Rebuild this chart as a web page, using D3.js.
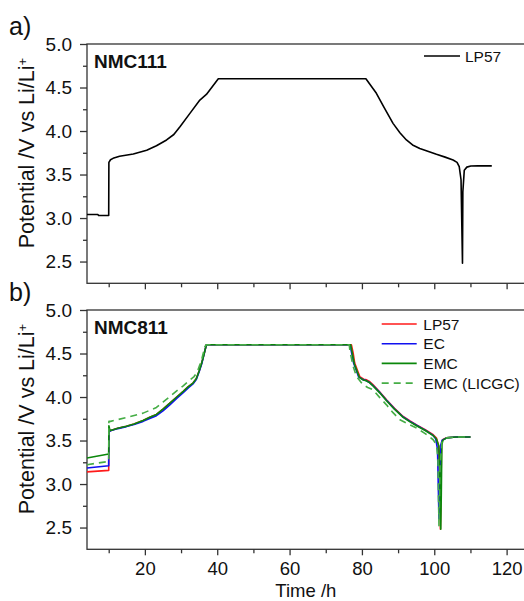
<!DOCTYPE html>
<html>
<head>
<meta charset="utf-8">
<script src="https://cdn.jsdelivr.net/npm/d3@7"></script>
<style>
    body { margin: 0; background: #fff; }
    svg { display: block; }
</style>
</head>
<body>
<script>
// a) NMC111 cell, LP57 electrolyte (time in h, potential in V)
const nmc111Time = [4, 7, 7.2, 10, 10.05, 10.5, 11.2, 13, 16.8, 20.5, 23.2, 26, 28, 29.7, 32.4, 35.2, 37, 40.3,
    81.1, 82.5, 84, 86, 88.6, 90.5, 92.3, 94, 96, 98, 100.6, 103, 105.2, 106.3, 106.9, 107.4, 107.8,
    107.9, 108.3, 109, 110.1, 112, 115.9];
const nmc111Potential = [3.04, 3.04, 3.03, 3.03, 3.64, 3.67, 3.686, 3.71, 3.736, 3.78, 3.83, 3.897, 3.96, 4.05, 4.2, 4.356, 4.42, 4.6,
    4.6, 4.52, 4.433, 4.28, 4.088, 3.98, 3.897, 3.84, 3.8, 3.77, 3.732, 3.7, 3.667, 3.64, 3.59, 3.44, 2.48,
    3.3, 3.55, 3.585, 3.598, 3.6, 3.6];

// b) NMC811 cells
const lp57Time = [4, 10, 10.05, 10.5, 12.5, 14.9, 17, 19.5, 21.5, 23.2, 25, 26.9, 28.8, 30.6, 32, 33.3, 34.2, 35, 35.7, 36.4, 37,
    77.1, 77.6, 78, 79.4, 80.5, 81.3, 82.2, 83.1, 85, 86.8, 89, 91.4, 93.3, 95.1, 97.5, 99.7, 100.6, 101.2, 101.55, 101.7,
    101.85, 102, 102.3, 103.4, 106, 110];
const lp57Potential = [3.14, 3.157, 3.6, 3.615, 3.64, 3.665, 3.69, 3.73, 3.77, 3.8, 3.86, 3.93, 4, 4.065, 4.12, 4.16, 4.21, 4.3, 4.39, 4.5, 4.6,
    4.6, 4.5, 4.39, 4.235, 4.205, 4.197, 4.175, 4.14, 4.055, 3.968, 3.87, 3.776, 3.725, 3.68, 3.625, 3.567, 3.528, 3.44, 3, 2.48,
    2.9, 3.45, 3.509, 3.532, 3.54, 3.54];

const ecTime = [4, 10, 10.05, 10.5, 12.5, 14.9, 17, 19.5, 21.5, 23.2, 25, 26.9, 28.8, 30.6, 32, 33.3, 34.2, 35, 35.7, 36.4, 37,
    76.7, 77.2, 77.7, 79.1, 80.3, 81.1, 82, 83, 85, 86.8, 89, 91.4, 93.3, 95.1, 97.5, 99.6, 100.4, 100.9, 101.15, 101.3,
    101.5, 101.8, 102.2, 103.4, 106, 110];
const ecPotential = [3.185, 3.21, 3.6, 3.612, 3.637, 3.66, 3.685, 3.72, 3.755, 3.785, 3.84, 3.91, 3.985, 4.05, 4.105, 4.15, 4.2, 4.29, 4.38, 4.5, 4.6,
    4.6, 4.5, 4.39, 4.23, 4.2, 4.19, 4.17, 4.135, 4.05, 3.962, 3.864, 3.77, 3.72, 3.675, 3.62, 3.562, 3.52, 3.4, 2.9, 2.6,
    3.0, 3.45, 3.505, 3.53, 3.54, 3.54];

const emcTime = [4, 10, 10.05, 10.3, 10.6, 12.5, 14.9, 17, 19.5, 21.5, 23.2, 25, 26.9, 28.8, 30.6, 32, 33.3, 34.2, 35, 35.7, 36.4, 37,
    76.9, 77.4, 77.9, 79.3, 80.4, 81.2, 82.1, 83, 85, 86.8, 89, 91.4, 93.3, 95.1, 97.5, 99.7, 100.6, 101.3, 101.65, 101.8,
    101.95, 102.1, 102.4, 103.4, 106, 110];
const emcPotential = [3.3, 3.345, 3.67, 3.625, 3.615, 3.64, 3.665, 3.69, 3.73, 3.77, 3.8, 3.86, 3.93, 4, 4.065, 4.12, 4.16, 4.21, 4.3, 4.39, 4.5, 4.6,
    4.6, 4.49, 4.38, 4.225, 4.195, 4.187, 4.165, 4.13, 4.045, 3.958, 3.86, 3.766, 3.715, 3.67, 3.615, 3.557, 3.518, 3.43, 3, 2.48,
    2.9, 3.45, 3.505, 3.53, 3.54, 3.54];

const licgcTime = [4, 10, 10.05, 10.5, 14.9, 19.5, 21.5, 23.2, 25, 26.9, 28.8, 30.6, 32, 33.6, 34.5, 35.7, 36.6, 37,
    76.5, 76.7, 77.6, 78.5, 80.3, 81.6, 83.1, 85, 86.8, 88.6, 90.5, 92.8, 95.1, 97.5, 99.7, 100.6, 101, 101.3,
    101.6, 102.1, 103.4, 106, 110];
const licgcPotential = [3.222, 3.26, 3.72, 3.72, 3.765, 3.815, 3.85, 3.88, 3.94, 4.006, 4.07, 4.128, 4.18, 4.235, 4.29, 4.43, 4.58, 4.6,
    4.6, 4.52, 4.35, 4.235, 4.14, 4.11, 4.083, 3.99, 3.91, 3.82, 3.739, 3.69, 3.643, 3.58, 3.509, 3.452, 3.3, 2.52,
    3.2, 3.48, 3.53, 3.54, 3.54];

const seriesNames = ["LP57", "EC", "EMC", "EMC (LICGC)"];
const seriesColors = ["#ff1a1a", "#1010f0", "#0b870b", "#45ad45"];
const seriesDashes = [null, null, null, "7,5"];

const xTicks = [20, 40, 60, 80, 100, 120];
const xMinorTicks = [10, 30, 50, 70, 90, 110];
const yTicks = [2.5, 3.0, 3.5, 4.0, 4.5, 5.0];
const yMinorTicks = [2.75, 3.25, 3.75, 4.25, 4.75];

const FONT = '"Liberation Sans", Arial, sans-serif';
const AXIS_COLOR = "#333";

let svg = d3.select("body")
    .append("svg")
    .attr("width", 524)
    .attr("height", 601)
    .style("background-color", "#fff");

let x = d3.scaleLinear().domain([4, 125]).range([87, 524.7]);

function zip(t, v) {
    return t.map((d, i) => [d, v[i]]);
}

// one framed panel with left and bottom axes, returns its y scale
function drawPanel(top, bottom, showXLabels, letter, title) {
    let y = d3.scaleLinear().domain([2.25, 5]).range([bottom, top]);
    let g = svg.append("g");

    g.append("rect")
        .attr("x", x.range()[0])
        .attr("y", top)
        .attr("width", x.range()[1] - x.range()[0])
        .attr("height", bottom - top)
        .attr("fill", "none")
        .attr("stroke", AXIS_COLOR)
        .attr("stroke-width", 1.3);

    // left axis: major + minor
    g.append("g")
        .attr("transform", "translate(" + x.range()[0] + ",0)")
        .call(d3.axisLeft(y).tickValues(yTicks).tickSize(7).tickPadding(8).tickFormat(d3.format(".1f")));
    g.append("g")
        .attr("transform", "translate(" + x.range()[0] + ",0)")
        .call(d3.axisLeft(y).tickValues(yMinorTicks).tickSize(4).tickFormat(""));

    // bottom axis: major + minor
    g.append("g")
        .attr("class", "x-major")
        .attr("transform", "translate(0," + bottom + ")")
        .call(d3.axisBottom(x).tickValues(xTicks).tickSize(6).tickPadding(7)
            .tickFormat(showXLabels ? d3.format("d") : ""));
    g.append("g")
        .attr("transform", "translate(0," + bottom + ")")
        .call(d3.axisBottom(x).tickValues(xMinorTicks).tickSize(4).tickFormat(""));

    g.selectAll(".domain").remove();
    g.selectAll(".tick line").attr("stroke", AXIS_COLOR).attr("stroke-width", 1.3);
    g.selectAll(".tick text")
        .attr("fill", "#111")
        .attr("font-size", "19px")
        .attr("font-family", FONT);
    g.selectAll(".x-major .tick text").attr("font-size", "18.5px");

    // y axis title with superscript
    let label = g.append("text")
        .attr("transform", "translate(33.5," + (bottom - 35) + ") rotate(-90)")
        .attr("font-size", "21.5px")
        .attr("font-family", FONT)
        .attr("fill", "#111")
        .text("Potential /V vs Li/Li");
    label.append("tspan")
        .attr("baseline-shift", "super")
        .attr("font-size", "13px")
        .text("+");

    // panel letter and cell name
    svg.append("text")
        .attr("x", 9)
        .attr("y", top - 9)
        .attr("font-size", "25px")
        .attr("font-family", FONT)
        .attr("fill", "#111")
        .text(letter);

    svg.append("text")
        .attr("x", 94)
        .attr("y", top + 24)
        .attr("font-size", "19px")
        .attr("font-weight", "bold")
        .attr("font-family", FONT)
        .attr("fill", "#111")
        .text(title);

    return y;
}

// ---- panel a ----
let yA = drawPanel(44, 283.3, false, "a)", "NMC111");

svg.append("path")
    .datum(zip(nmc111Time, nmc111Potential))
    .attr("fill", "none")
    .attr("stroke", "#000")
    .attr("stroke-width", 1.6)
    .attr("stroke-linejoin", "round")
    .attr("d", d3.line().x(d => x(d[0])).y(d => yA(d[1])));

svg.append("line")
    .attr("x1", 424).attr("x2", 460)
    .attr("y1", 56).attr("y2", 56)
    .attr("stroke", "#000")
    .attr("stroke-width", 1.6);
svg.append("text")
    .attr("x", 465)
    .attr("y", 62)
    .attr("font-size", "15.5px")
    .attr("font-family", FONT)
    .attr("fill", "#111")
    .text("LP57");

// ---- panel b ----
let yB = drawPanel(310, 549.3, true, "b)", "NMC811");

let series = [
    zip(lp57Time, lp57Potential),
    zip(ecTime, ecPotential),
    zip(emcTime, emcPotential),
    zip(licgcTime, licgcPotential)
];

series.forEach(function (points, i) {
    svg.append("path")
        .datum(points)
        .attr("fill", "none")
        .attr("stroke", seriesColors[i])
        .attr("stroke-width", 1.6)
        .attr("stroke-dasharray", seriesDashes[i])
        .attr("stroke-linejoin", "round")
        .attr("d", d3.line().x(d => x(d[0])).y(d => yB(d[1])));
});

// legend
let legend = svg.append("g").attr("transform", "translate(381.7,324)");
seriesNames.forEach(function (name, i) {
    let row = legend.append("g").attr("transform", "translate(0," + (i * 19.7) + ")");
    row.append("line")
        .attr("x1", 0).attr("x2", 35)
        .attr("stroke", seriesColors[i])
        .attr("stroke-width", 1.6)
        .attr("stroke-dasharray", seriesDashes[i]);
    row.append("text")
        .attr("x", 41.6)
        .attr("y", 5.6)
        .attr("font-size", "15.5px")
        .attr("font-family", FONT)
        .attr("fill", "#111")
        .text(name);
});

// x axis title
svg.append("text")
    .attr("x", (x.range()[0] + x.range()[1]) / 2)
    .attr("y", 597)
    .attr("text-anchor", "middle")
    .attr("font-size", "18.5px")
    .attr("font-family", FONT)
    .attr("fill", "#111")
    .text("Time /h");
</script>
</body>
</html>
